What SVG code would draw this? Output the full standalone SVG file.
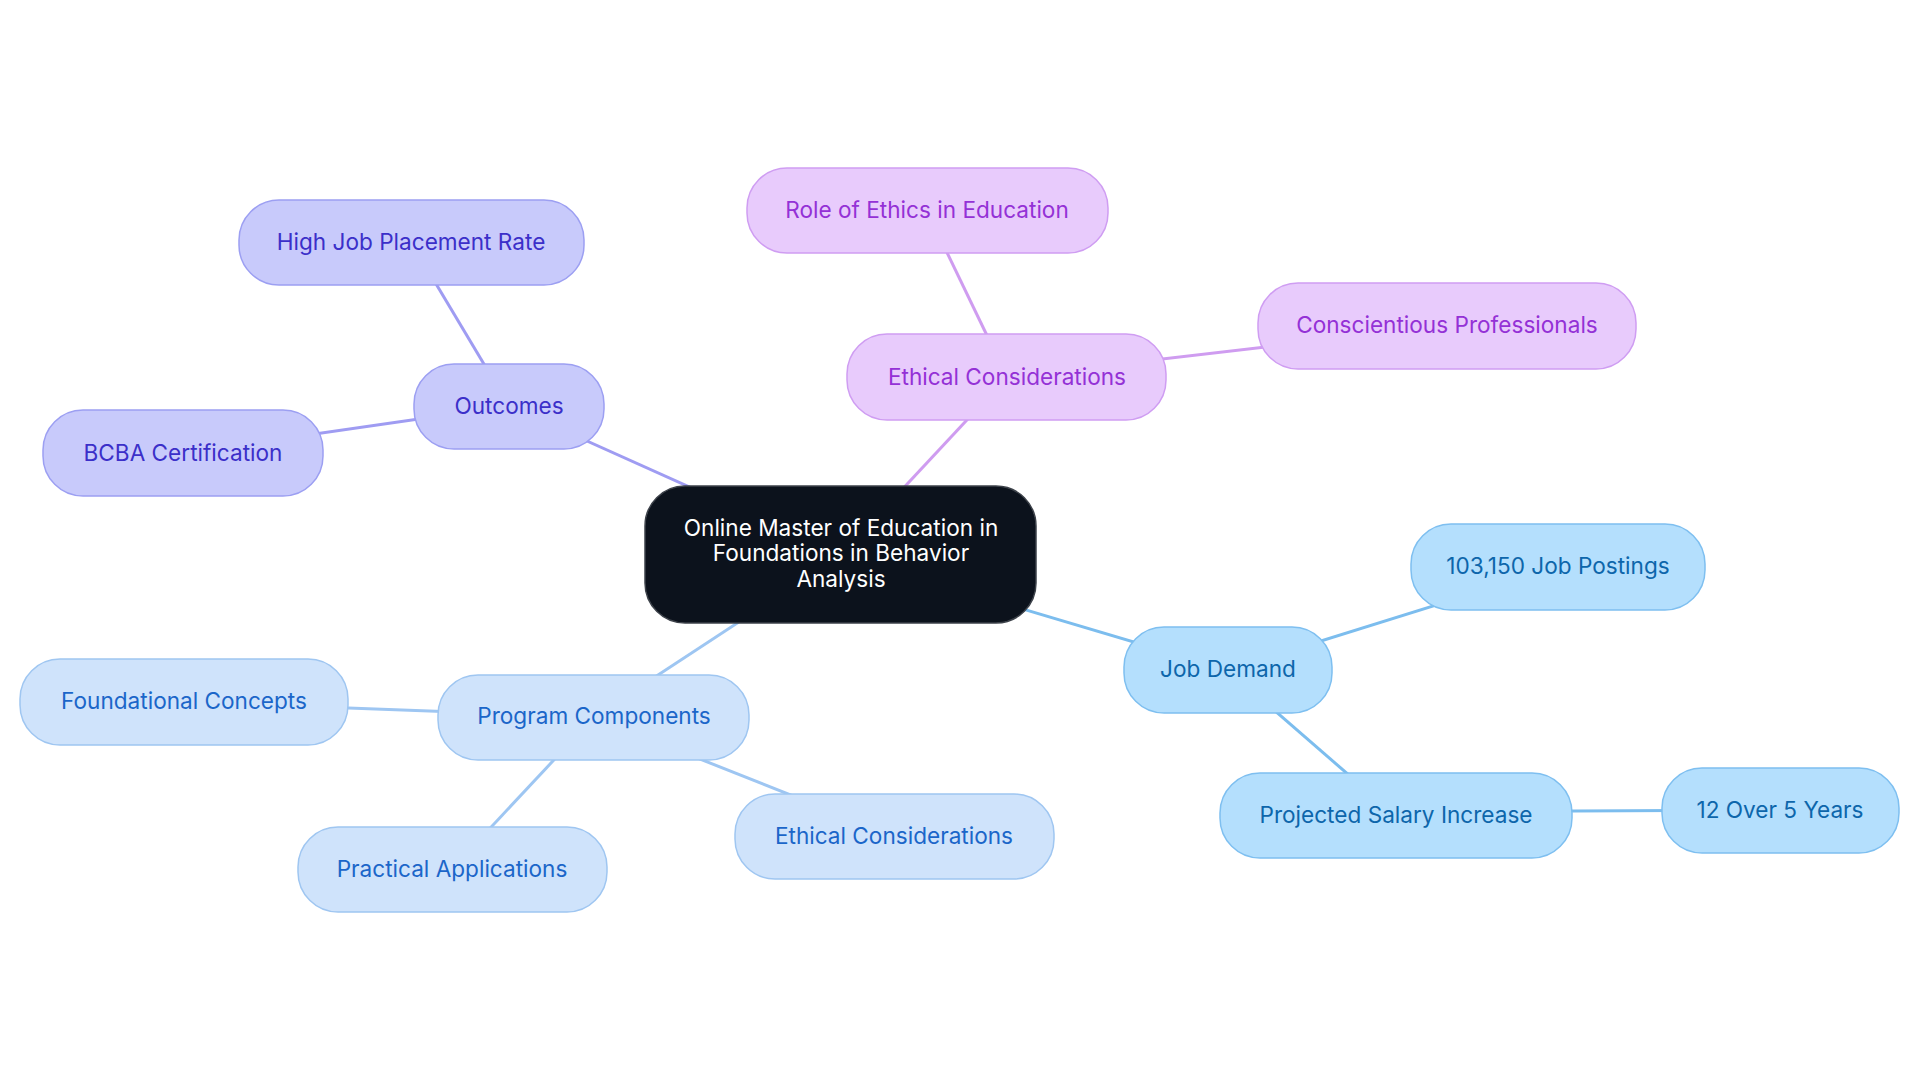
<svg xmlns="http://www.w3.org/2000/svg" width="1920" height="1083" viewBox="0 0 1920 1083">
<style>
text{font-family:Inter,"Noto Sans","Liberation Sans",sans-serif;font-size:22.6px;text-anchor:middle;dominant-baseline:central}
.c1 rect{fill:#c8cafb;stroke:#9c9ff2;stroke-width:1.5}
.c1 text{fill:#3b2fc9}
.c2 rect{fill:#e8cbfc;stroke:#cf9df2;stroke-width:1.5}
.c2 text{fill:#9431d6}
.c3 rect{fill:#b4dffd;stroke:#7ebff0;stroke-width:1.5}
.c3 text{fill:#0d66ab}
.c4 rect{fill:#cfe3fb;stroke:#9fc6f1;stroke-width:1.5}
.c4 text{fill:#1b66c9}
#connectors line{stroke-width:3;fill:none}
.l1{stroke:#9f9cf2}.l2{stroke:#cf9cf0}.l3{stroke:#7cbdee}.l4{stroke:#9ec6f2}
</style>
<rect width="1920" height="1083" fill="#ffffff"/>
<g id="connectors">
<line class="l1" x1="509" y1="406" x2="841" y2="555"/>
<line class="l1" x1="411" y1="242" x2="509" y2="406"/>
<line class="l1" x1="183" y1="453" x2="509" y2="406"/>
<line class="l2" x1="1007" y1="377" x2="841" y2="555"/>
<line class="l2" x1="927" y1="211" x2="1007" y2="377"/>
<line class="l2" x1="1447" y1="326" x2="1007" y2="377"/>
<line class="l3" x1="1228" y1="670" x2="841" y2="555"/>
<line class="l3" x1="1558" y1="567" x2="1228" y2="670"/>
<line class="l3" x1="1396" y1="816" x2="1228" y2="670"/>
<line class="l3" x1="1780" y1="810" x2="1396" y2="812"/>
<line class="l4" x1="594" y1="717" x2="841" y2="555"/>
<line class="l4" x1="184" y1="702" x2="594" y2="717"/>
<line class="l4" x1="452" y1="869" x2="594" y2="717"/>
<line class="l4" x1="894" y1="836" x2="594" y2="717"/>
</g>
<g id="central">
<rect x="645" y="486" width="391" height="137" rx="40" fill="#0c121c" stroke="#3d424a" stroke-width="1.5"/>
<text x="841" y="527" fill="#ffffff">Online Master of Education in</text>
<text x="841" y="552" fill="#ffffff">Foundations in Behavior</text>
<text x="841" y="578" fill="#ffffff">Analysis</text>
</g>
<g id="outcomes" class="c1"><rect x="414" y="364" width="190" height="85" rx="40"/><text x="509" y="405">Outcomes</text></g>
<g id="high-job" class="c1"><rect x="239" y="200" width="345" height="85" rx="40"/><text x="411" y="241">High Job Placement Rate</text></g>
<g id="bcba" class="c1"><rect x="43" y="410" width="280" height="86" rx="40"/><text x="183" y="452">BCBA Certification</text></g>
<g id="ethical" class="c2"><rect x="847" y="334" width="319" height="86" rx="40"/><text x="1007" y="376">Ethical Considerations</text></g>
<g id="role-ethics" class="c2"><rect x="747" y="168" width="361" height="85" rx="40"/><text x="927" y="209">Role of Ethics in Education</text></g>
<g id="conscientious" class="c2"><rect x="1258" y="283" width="378" height="86" rx="40"/><text x="1447" y="324">Conscientious Professionals</text></g>
<g id="job-demand" class="c3"><rect x="1124" y="627" width="208" height="86" rx="40"/><text x="1228" y="668">Job Demand</text></g>
<g id="job-postings" class="c3"><rect x="1411" y="524" width="294" height="86" rx="40"/><text x="1558" y="565">103,150 Job Postings</text></g>
<g id="salary" class="c3"><rect x="1220" y="773" width="352" height="85" rx="40"/><text x="1396" y="814">Projected Salary Increase</text></g>
<g id="twelve" class="c3"><rect x="1662" y="768" width="237" height="85" rx="40"/><text x="1780" y="809">12 Over 5 Years</text></g>
<g id="program" class="c4"><rect x="438" y="675" width="311" height="85" rx="40"/><text x="594" y="715">Program Components</text></g>
<g id="foundational" class="c4"><rect x="20" y="659" width="328" height="86" rx="40"/><text x="184" y="700">Foundational Concepts</text></g>
<g id="practical" class="c4"><rect x="298" y="827" width="309" height="85" rx="40"/><text x="452" y="868">Practical Applications</text></g>
<g id="ethical-2" class="c4"><rect x="735" y="794" width="319" height="85" rx="40"/><text x="894" y="835">Ethical Considerations</text></g>
</svg>
